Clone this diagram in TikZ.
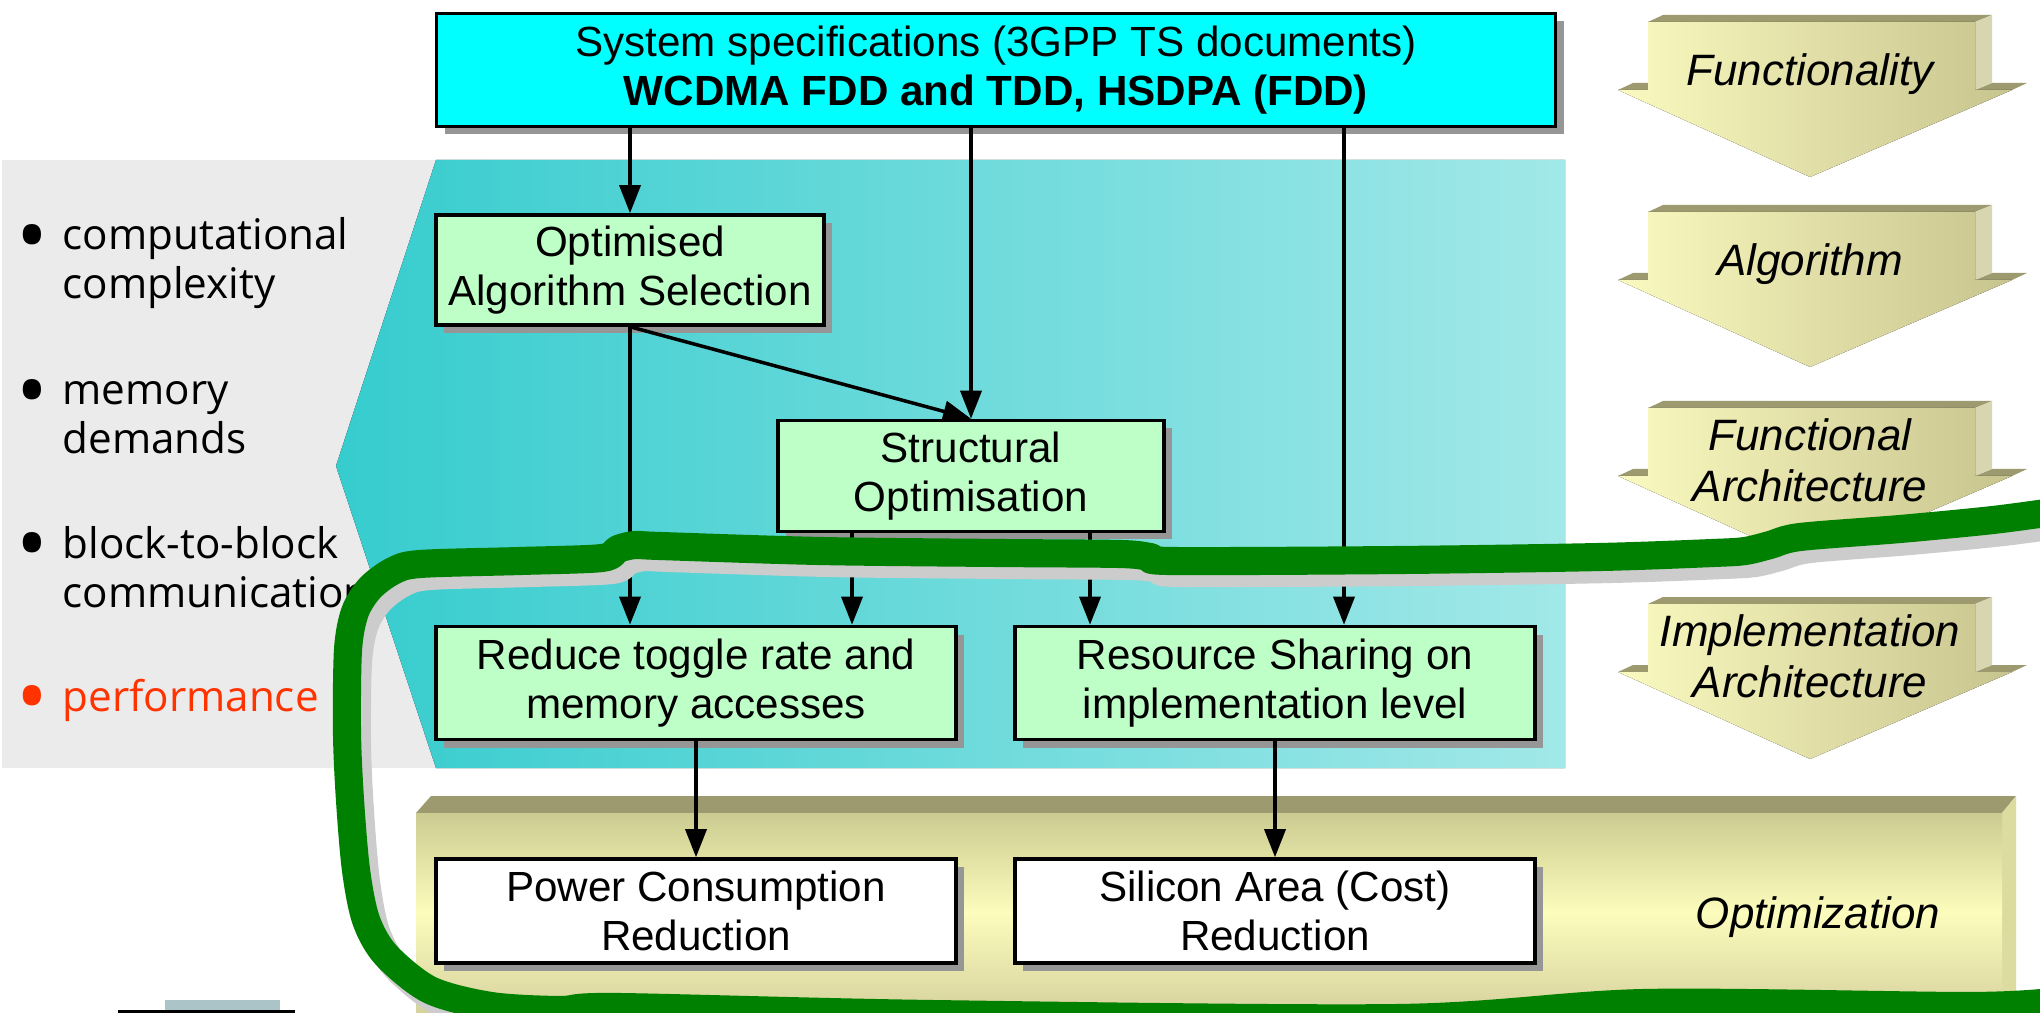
\documentclass[tikz,border=0pt]{standalone}
\usepackage{fontspec}
\setmainfont{Liberation Sans}
\newfontfamily\critfont{Open Sans}
\usepackage{tikz}
\usetikzlibrary{arrows.meta,positioning,shadows,calc}
\definecolor{aqua}{RGB}{0,255,255}
\definecolor{tealdark}{RGB}{54,204,206}
\definecolor{teallight}{RGB}{162,232,232}
\definecolor{mint}{RGB}{190,255,200}
\definecolor{khakidark}{RGB}{200,196,142}
\definecolor{khakilight}{RGB}{250,250,192}
\definecolor{khakitop}{RGB}{204,204,146}
\definecolor{khakimid}{RGB}{252,252,188}
\definecolor{khakibot}{RGB}{214,210,158}
\definecolor{khakiside}{RGB}{220,220,160}
\definecolor{olive}{RGB}{156,154,110}
\definecolor{shade}{RGB}{150,150,150}
\definecolor{panel}{RGB}{235,235,235}
\definecolor{leaf}{RGB}{0,128,0}
\definecolor{ghost}{RGB}{204,204,204}
\definecolor{steel}{RGB}{170,196,200}
\definecolor{perf}{RGB}{255,51,0}
\newcommand\critbul{\makebox[4.6mm][l]{\raisebox{-0.36em}{\scalebox{2}{\textbullet}}}}

\begin{document}
\begin{tikzpicture}[x=0.1mm,y=-0.1mm,
  box/.style={draw,line width=1pt,fill=mint,align=center,inner sep=0pt,font=\fontsize{12}{14}\selectfont,
    drop shadow={shadow xshift=0.8mm,shadow yshift=-0.8mm,fill=shade,opacity=1}},
  conn/.style={line width=1pt,-{Triangle[length=2.8mm,width=2.1mm]}},
  crit/.style={anchor=base west,inner sep=0pt,font=\critfont\fontsize{12}{14}\selectfont},
  lvl/.style={align=center,inner sep=0pt,font=\itshape\fontsize{12.5}{14.5}\selectfont}]
  \fill[white] (0,0) rectangle (2040,1013);
  \useasboundingbox (0,0) rectangle (2040,1013);
  \fill[panel] (2,160) rectangle (440,768);
  \fill[left color=tealdark,right color=teallight] (436,160) -- (1565,160) -- (1565,768) -- (436,768) -- (336,466) -- cycle;
  \foreach \y/\a/\b [count=\i] in {250/computational/complexity, 405/memory/demands, 558/block-to-block/communication}{
    \node[crit] (k\i) at (16,\y) {\critbul\a};
    \node[crit] (l\i) at (62,{\y+49}) {\b};
  }
  \node[crit,text=perf] (k4) at (16,711) {\critbul performance};
  \fill[olive] (416,813) -- (431,796) -- (2016,796) -- (2002,813) -- cycle;
  \fill[khakiside] (2002,813) -- (2016,796) -- (2016,1013) -- (2002,1013) -- cycle;
  \fill[top color=khakitop,bottom color=khakibot,middle color=khakimid] (416,813) -- (2002,813) -- (2002,1013) -- (416,1013) -- cycle;
  \node[lvl] (opt) at (1818,917) {Optimization};
  \foreach \b/\t [count=\i] in {22/Functionality, 212/Algorithm, 408/{Functional\\Architecture}, 604/{Implementation\\Architecture}}{
    \begin{scope}[shift={(0,\b)}]
      \fill[olive] (1648,0) -- (1663,-7) -- (1992,-7) -- (1975,0) -- cycle;
      \fill[olive] (1618,68) -- (1633,61) -- (1648,61) -- (1648,68) -- cycle;
      \fill[olive] (1975,68) -- (1992,61) -- (2027,61) -- (2012,68) -- cycle;
      \fill[khakidark!70!white] (1975,0) -- (1992,-7) -- (1992,61) -- (1975,68) -- cycle;
      \fill[left color=khakilight,right color=khakidark] (1648,0) -- (1975,0) -- (1975,68) -- (2012,68) -- (1810,155) -- (1618,68) -- (1648,68) -- cycle;
      \node[lvl] (v\i) at (1810,52) {\t};
    \end{scope}
  }
  \node[box,fill=aqua,minimum width=11.19cm,minimum height=1.13cm] (spec) at (996,70) {System specifications (3GPP TS documents)\\\textbf{WCDMA FDD and TDD, HSDPA (FDD)}};
  \node[box,minimum width=3.88cm,minimum height=1.1cm] (algo) at (630,270) {Optimised\\Algorithm Selection};
  \node[box,minimum width=3.86cm,minimum height=1.11cm] (struct) at (971,476) {Structural\\Optimisation};
  \node[box,minimum width=5.2cm,minimum height=1.13cm] (toggle) at (696,683) {Reduce toggle rate and\\memory accesses};
  \node[box,minimum width=5.2cm,minimum height=1.13cm] (share) at (1275,683) {Resource Sharing on\\implementation level};
  \node[box,fill=white,minimum width=5.2cm,minimum height=1.04cm] (power) at (696,911) {Power Consumption\\Reduction};
  \node[box,fill=white,minimum width=5.2cm,minimum height=1.04cm] (silicon) at (1275,911) {Silicon Area (Cost)\\Reduction};
  \coordinate (sharein) at ([xshift=6.9mm]share.north);
  \coordinate (sl) at ([xshift=-11.9mm]struct.south);
  \coordinate (sr) at ([xshift=11.9mm]struct.south);
  \draw[conn] (spec.south -| algo.north) -- (algo.north);
  \draw[conn] (spec.south -| struct.north) -- (struct.north);
  \draw[conn] (spec.south -| sharein) -- (sharein);
  \draw[conn] (algo.south) -- (struct.north);
  \draw[conn] (algo.south) -- (algo.south |- toggle.north);
  \draw[conn] (sl) -- (sl |- toggle.north);
  \draw[conn] (sr) -- (sr |- share.north);
  \draw[conn] (toggle.south) -- (power.north);
  \draw[conn] (share.south) -- (silicon.north);
  \fill[steel] (165,1000) rectangle (280,1013);
  \draw[line width=1pt] (118,1012) -- (295,1012);
  \foreach \dx/\dy/\c in {10/12/ghost, 0/0/leaf}
    \draw[line width=8pt,\c,line cap=round,line join=round,shift={(\dx,\dy)}] plot[smooth,tension=0.5] coordinates {
      (2060,511) (1993,520) (1900,529) (1800,537) (1770,545) (1745,551) (1713,553) (1600,557) (1400,560)
      (1171,561) (1150,557) (1120,554) (1000,553) (820,551) (660,546) (635,545) (618,549) (602,558)
      (520,561) (420,564) (393,571) (370,588) (355,612) (348,650) (347,733) (350,800) (356,870)
      (366,920) (386,955) (430,990) (491,1006) (560,1010) (617,1007) (930,1014) (1400,1018)
      (1645,1003) (1971,1006) (2060,1001)};
\end{tikzpicture}
\end{document}
